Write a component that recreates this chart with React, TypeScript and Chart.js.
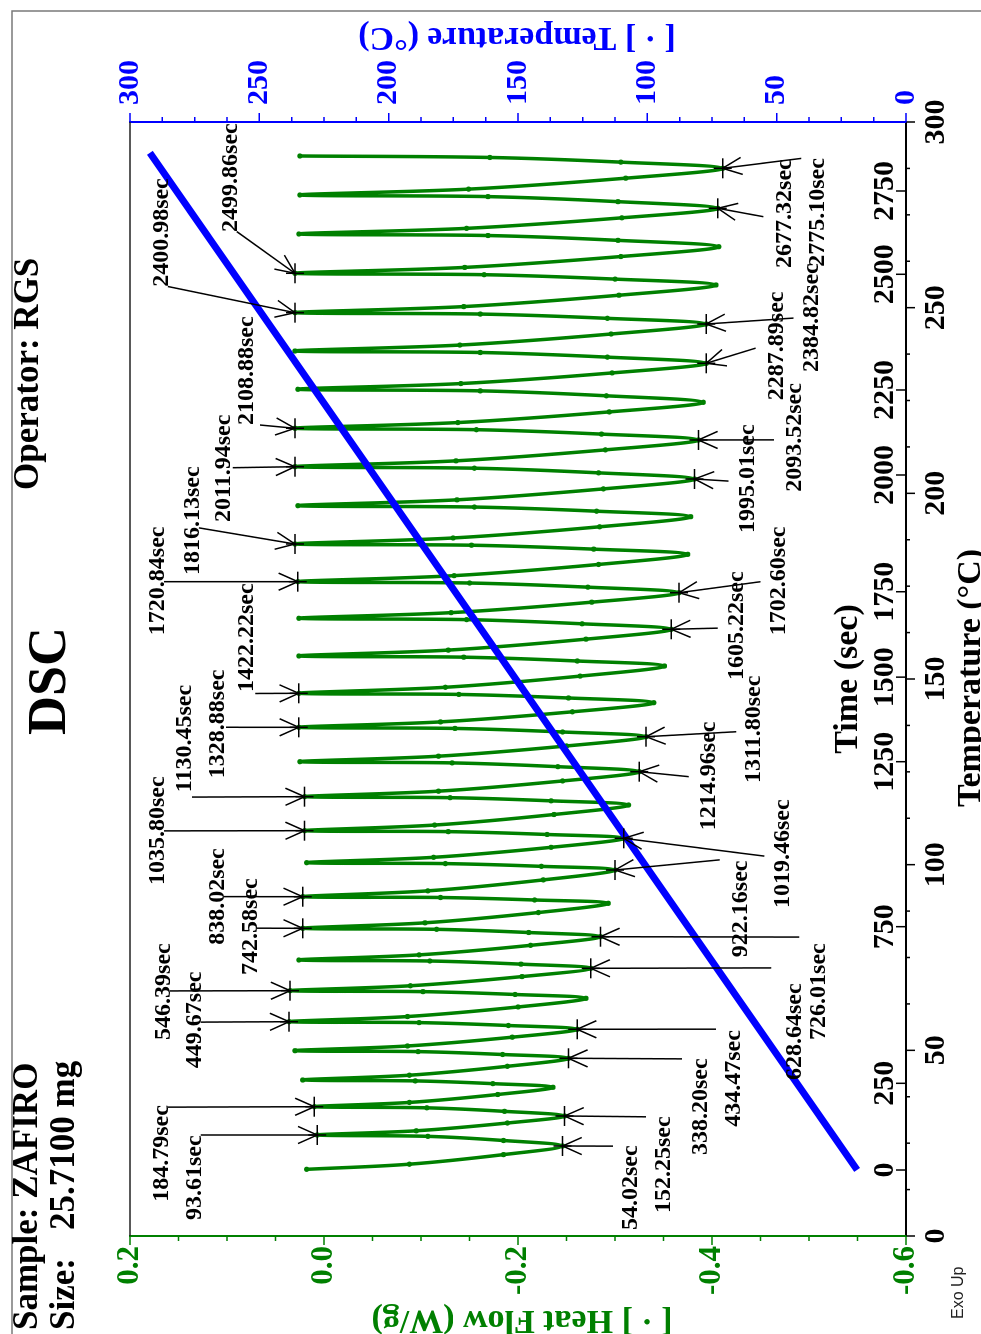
import React, { useEffect, useRef } from 'react';
import { Chart, registerables } from 'chart.js';

Chart.register(...registerables);

const GREEN = '#008000';
const BLUE = '#0000ff';
const SERIF = "'Liberation Serif', 'Times New Roman', serif";
const SANS = "'Liberation Sans', Arial, sans-serif";

// Heat flow (W/g) against sample temperature (°C)
const heatFlowTemp = [
  17.96, 19.34, 21.92,
  24.24, 25.72, 26.84,
  27.20, 28.33, 30.43,
  32.32, 33.57, 34.52,
  34.82, 35.97, 38.11,
  40.05, 41.03, 41.77,
  42.01, 43.30, 45.70,
  47.86, 48.88, 49.66,
  49.90, 51.17, 53.54,
  55.67, 56.69, 57.47,
  57.71, 59.10, 61.68,
  64.01, 65.04, 65.81,
  66.06, 67.39, 69.86,
  72.09, 73.21, 74.06,
  74.33, 75.71, 78.28,
  80.60, 81.73, 82.59,
  82.86, 84.34, 87.11,
  89.60, 90.49, 91.16,
  91.37, 92.95, 95.90,
  98.56, 99.55, 100.29,
  100.53, 101.98, 104.67,
  107.10, 108.13, 108.90,
  109.15, 110.67, 113.51,
  116.07, 117.19, 118.04,
  118.31, 119.79, 122.55,
  125.04, 126.39, 127.41,
  127.73, 129.21, 131.97,
  134.46, 135.73, 136.69,
  136.99, 138.45, 141.17,
  143.62, 144.89, 145.85,
  146.15, 147.77, 150.78,
  153.50, 154.85, 155.88,
  156.20, 157.78, 160.73,
  163.39, 164.87, 165.99,
  166.35, 167.87, 170.69,
  173.24, 174.73, 175.85,
  176.21, 177.83, 180.85,
  183.58, 184.97, 186.03,
  186.36, 187.98, 190.99,
  193.71, 195.19, 196.31,
  196.67, 198.25, 201.20,
  203.86, 205.52, 206.77,
  207.17, 208.75, 211.71,
  214.37, 215.95, 217.14,
  217.52, 219.06, 221.93,
  224.52, 226.27, 227.60,
  228.02, 229.56, 232.43,
  235.02, 236.68, 237.93,
  238.33, 239.93, 242.91,
  245.60, 247.13, 248.28,
  248.65, 250.29, 253.35,
  256.11, 257.69, 258.88,
  259.26, 260.84, 263.77,
  266.42, 268.13, 269.43,
  269.84, 271.36, 274.20,
  276.76, 278.55, 279.91,
  280.34, 281.92, 284.87,
  287.53, 289.19, 290.45,
  290.85,
];

const heatFlowValue = [
  0.018, -0.088, -0.185,
  -0.246, -0.185, -0.107,
  0.007, -0.095, -0.189,
  -0.248, -0.186, -0.106,
  0.010, -0.088, -0.179,
  -0.236, -0.174, -0.094,
  0.022, -0.088, -0.189,
  -0.252, -0.184, -0.097,
  0.030, -0.086, -0.194,
  -0.261, -0.190, -0.098,
  0.036, -0.086, -0.200,
  -0.270, -0.197, -0.102,
  0.035, -0.089, -0.204,
  -0.275, -0.203, -0.109,
  0.026, -0.098, -0.213,
  -0.285, -0.211, -0.116,
  0.022, -0.104, -0.221,
  -0.293, -0.217, -0.120,
  0.022, -0.107, -0.226,
  -0.300, -0.224, -0.125,
  0.018, -0.113, -0.234,
  -0.309, -0.230, -0.128,
  0.020, -0.114, -0.237,
  -0.314, -0.234, -0.130,
  0.020, -0.118, -0.246,
  -0.325, -0.241, -0.132,
  0.025, -0.118, -0.250,
  -0.332, -0.246, -0.135,
  0.026, -0.120, -0.256,
  -0.340, -0.252, -0.139,
  0.026, -0.125, -0.264,
  -0.351, -0.261, -0.144,
  0.026, -0.128, -0.270,
  -0.358, -0.266, -0.147,
  0.026, -0.131, -0.276,
  -0.366, -0.272, -0.150,
  0.027, -0.134, -0.283,
  -0.375, -0.278, -0.152,
  0.030, -0.133, -0.284,
  -0.378, -0.281, -0.155,
  0.027, -0.137, -0.288,
  -0.382, -0.283, -0.155,
  0.030, -0.136, -0.290,
  -0.386, -0.286, -0.157,
  0.030, -0.138, -0.294,
  -0.391, -0.291, -0.161,
  0.027, -0.141, -0.297,
  -0.394, -0.292, -0.161,
  0.030, -0.140, -0.296,
  -0.394, -0.292, -0.161,
  0.030, -0.144, -0.304,
  -0.404, -0.300, -0.165,
  0.030, -0.145, -0.306,
  -0.407, -0.303, -0.169,
  0.026, -0.147, -0.307,
  -0.406, -0.303, -0.169,
  0.025, -0.149, -0.311,
  -0.411, -0.306, -0.171,
  0.025,
];

// Temperature trace (right axis) against sample temperature
const tempLineX = [17.8, 291.7];
const tempLineY = [18.9, 292.3];

// Secondary time axis (sec), positioned at the sample temperature it corresponds to
const timeTickSeconds = [0, 250, 750, 1250, 1500, 1750, 2000, 2250, 2500, 2750];
const timeTickTemps = [17.77, 41.12, 83.3, 127.73, 150.5, 173.5, 204.94, 227.83, 258.99, 281.42];

// Annotated peaks
const annLabels = [
  '93.61sec', '184.79sec', '449.67sec', '546.39sec', '742.58sec', '838.02sec', '1035.80sec', '1130.45sec',
  '1328.88sec', '1422.22sec', '1720.84sec', '1816.13sec', '2011.94sec', '2108.88sec', '2400.98sec', '2499.86sec',
  '54.02sec', '152.25sec', '338.20sec', '434.47sec', '628.64sec', '726.01sec', '922.16sec', '1019.46sec',
  '1214.96sec', '1311.80sec', '1605.22sec', '1702.60sec', '1995.01sec', '2093.52sec', '2287.89sec', '2384.82sec',
  '2677.32sec', '2775.10sec',
];
const annTipPoint = [
  6, 12, 30, 36, 48, 54, 66, 72, 84, 90, 108, 114, 126, 132, 150, 156,
  3, 9, 21, 27, 39, 45, 57, 63, 75, 81, 99, 105, 123, 129, 141, 147, 165, 171,
];
const annFromT = [
  27.2, 34.7, 57.6, 66.0, 82.9, 91.4, 109.1, 118.2, 137.0, 146.1, 176.2, 190.7, 206.9, 218.4, 255.7, 270.5,
  24.2, 32.1, 47.7, 55.7, 72.2, 80.5, 101.3, 102.3, 123.7, 135.8, 163.7, 176.2, 203.3, 214.4, 239.1, 247.2, 274.5, 290.2,
];
const annFromHF = [
  0.127, 0.161, 0.127, 0.159, 0.069, 0.103, 0.165, 0.136, 0.101, 0.071, 0.165, 0.129, 0.094, 0.066, 0.161, 0.090,
  -0.298, -0.332, -0.369, -0.404, -0.461, -0.490, -0.408, -0.454, -0.376, -0.425, -0.406, -0.450, -0.417, -0.464,
  -0.445, -0.484, -0.453, -0.492,
];
const annTextT = [
  4.3, 9.2, 45.2, 52.8, 70.3, 78.4, 94.5, 119.5, 123.3, 146.5, 161.8, 178.0, 192.3, 218.4, 255.6, 270.4,
  1.6, 6.2, 21.8, 29.4, 42.0, 52.8, 75.1, 88.3, 109.3, 122.0, 149.7, 161.8, 189.3, 200.4, 225.1, 232.7, 260.7, 261.0,
];
const annTextHF = [
  0.127, 0.161, 0.127, 0.159, 0.069, 0.103, 0.165, 0.137, 0.103, 0.073, 0.165, 0.129, 0.097, 0.073, 0.161, 0.090,
  -0.323, -0.357, -0.395, -0.429, -0.492, -0.517, -0.436, -0.479, -0.403, -0.449, -0.432, -0.475, -0.443, -0.492,
  -0.473, -0.509, -0.481, -0.515,
];

function isMult(v: number, step: number) {
  const r = v / step;
  return Math.abs(r - Math.round(r)) < 1e-6;
}

const overlayPlugin = {
  id: 'dscOverlay',
  afterDraw(chart: any) {
    const ctx: CanvasRenderingContext2D = chart.ctx;
    const xs = chart.scales.x;
    const ys = chart.scales.y;
    const y2 = chart.scales.y2;
    const a = chart.chartArea;
    ctx.save();

    // outer frame
    ctx.strokeStyle = '#7a7a7a';
    ctx.lineWidth = 1.5;
    ctx.beginPath();
    ctx.moveTo(0, 12);
    ctx.lineTo(1323, 12);
    ctx.lineTo(1323, 981);
    ctx.stroke();

    // top border of plot
    ctx.strokeStyle = '#222';
    ctx.lineWidth = 1.5;
    ctx.beginPath();
    ctx.moveTo(a.left, a.top);
    ctx.lineTo(a.right, a.top);
    ctx.stroke();

    // temperature (x) tick marks, outside
    ctx.strokeStyle = '#000';
    ctx.lineWidth = 1.5;
    ctx.beginPath();
    for (const t of xs.ticks) {
      const p = xs.getPixelForValue(t.value);
      const len = isMult(t.value, 50) ? 9 : 4;
      ctx.moveTo(p, a.bottom);
      ctx.lineTo(p, a.bottom + len);
    }
    ctx.stroke();

    // heat flow tick marks
    ctx.strokeStyle = GREEN;
    ctx.beginPath();
    for (const t of ys.ticks) {
      const p = ys.getPixelForValue(t.value);
      const len = isMult(t.value, 0.2) ? 9 : 5;
      ctx.moveTo(a.left, p);
      ctx.lineTo(a.left - len, p);
    }
    ctx.stroke();

    // temperature (right) tick marks
    ctx.strokeStyle = BLUE;
    ctx.beginPath();
    for (const t of y2.ticks) {
      const p = y2.getPixelForValue(t.value);
      const len = isMult(t.value, 50) ? 9 : 5;
      ctx.moveTo(a.right, p);
      ctx.lineTo(a.right + len, p);
    }
    ctx.stroke();

    // time axis (inside the plot)
    ctx.strokeStyle = '#000';
    ctx.beginPath();
    timeTickTemps.forEach((T) => {
      const p = xs.getPixelForValue(T);
      ctx.moveTo(p, a.bottom);
      ctx.lineTo(p, a.bottom - 10);
    });
    ctx.stroke();
    ctx.fillStyle = '#000';
    ctx.font = `bold 30px ${SERIF}`;
    ctx.textAlign = 'center';
    ctx.textBaseline = 'alphabetic';
    timeTickSeconds.forEach((s, i) => {
      ctx.fillText(String(s), xs.getPixelForValue(timeTickTemps[i]), a.bottom - 13);
    });

    // axis titles
    ctx.font = `bold 34px ${SERIF}`;
    ctx.fillText('Time (sec)', 655, 857);
    ctx.fillText('Temperature (\u00B0C)', 656, 980);

    ctx.save();
    ctx.translate(23, 522);
    ctx.rotate(-Math.PI / 2);
    ctx.fillStyle = GREEN;
    ctx.fillText('[ \u00B7 ] Heat Flow (W/g)', 0, 0);
    ctx.restore();

    ctx.save();
    ctx.translate(1306, 517);
    ctx.rotate(-Math.PI / 2);
    ctx.fillStyle = BLUE;
    ctx.fillText('[ \u00B7 ] Temperature (\u00B0C)', 0, 0);
    ctx.restore();

    // header
    ctx.fillStyle = '#000';
    ctx.textAlign = 'left';
    ctx.font = `bold 35px ${SERIF}`;
    ctx.fillText('Sample: ZAFIRO', 4, 37);
    ctx.fillText('Size:', 4, 74);
    ctx.fillText('25.7100 mg', 104, 74);
    ctx.fillText('Operator: RGS', 844, 38);
    ctx.textAlign = 'center';
    ctx.font = `bold 54px ${SERIF}`;
    ctx.fillText('DSC', 653, 65);

    ctx.textAlign = 'left';
    ctx.font = `16px ${SANS}`;
    ctx.fillStyle = '#222';
    ctx.fillText('Exo Up', 15, 963);

    // annotations
    ctx.strokeStyle = '#000';
    ctx.fillStyle = '#000';
    ctx.lineWidth = 1.5;
    ctx.font = `bold 24px ${SERIF}`;
    ctx.textAlign = 'left';
    ctx.textBaseline = 'alphabetic';
    annLabels.forEach((label, i) => {
      const k = annTipPoint[i];
      const tx = xs.getPixelForValue(heatFlowTemp[k]);
      const ty = ys.getPixelForValue(heatFlowValue[k]);
      const fx = xs.getPixelForValue(annFromT[i]);
      const fy = ys.getPixelForValue(annFromHF[i]);
      ctx.beginPath();
      ctx.moveTo(fx, fy);
      ctx.lineTo(tx, ty);
      ctx.stroke();
      const ang = Math.atan2(ty - fy, tx - fx);
      const L = 21;
      const W = 0.42;
      ctx.beginPath();
      ctx.moveTo(tx - L * Math.cos(ang - W), ty - L * Math.sin(ang - W));
      ctx.lineTo(tx, ty);
      ctx.lineTo(tx - L * Math.cos(ang + W), ty - L * Math.sin(ang + W));
      ctx.stroke();
      ctx.beginPath();
      ctx.moveTo(tx - 10, ty);
      ctx.lineTo(tx + 10, ty);
      ctx.moveTo(tx, ty - 9);
      ctx.lineTo(tx, ty + 9);
      ctx.stroke();
      ctx.fillText(label, xs.getPixelForValue(annTextT[i]), ys.getPixelForValue(annTextHF[i]));
    });

    ctx.restore();
  },
};

export default function App() {
  const ref = useRef<HTMLCanvasElement>(null);

  useEffect(() => {
    document.body.style.margin = '0';
    document.body.style.overflow = 'hidden';
    const canvas = ref.current;
    if (!canvas) return;

    const hfPoints = heatFlowTemp.map((t, i) => ({ x: t, y: heatFlowValue[i] }));
    const tPoints = tempLineX.map((t, i) => ({ x: t, y: tempLineY[i] }));

    const chart = new Chart(canvas, {
      type: 'line',
      data: {
        datasets: [
          {
            label: 'Temperature',
            data: tPoints,
            yAxisID: 'y2',
            xAxisID: 'x',
            borderColor: BLUE,
            borderWidth: 7,
            pointRadius: 0,
            tension: 0,
          },
          {
            label: 'Heat Flow',
            data: hfPoints,
            yAxisID: 'y',
            xAxisID: 'x',
            borderColor: GREEN,
            borderWidth: 3.5,
            pointRadius: 2.6,
            pointBorderWidth: 0,
            pointBackgroundColor: GREEN,
            tension: 0.35,
          },
        ],
      },
      options: {
        responsive: false,
        animation: false,
        events: [],
        layout: { padding: { top: 130, left: 0, right: 0, bottom: 0 } },
        plugins: {
          legend: { display: false },
          tooltip: { enabled: false },
          title: { display: false },
        },
        scales: {
          x: {
            type: 'linear',
            position: 'bottom',
            min: 0,
            max: 300,
            grid: { display: false, drawTicks: false },
            border: { display: true, color: '#000', width: 2 },
            ticks: {
              stepSize: 12.5,
              autoSkip: false,
              maxRotation: 0,
              padding: 12,
              color: '#000',
              font: { family: SERIF, size: 30, weight: 'bold' },
              callback: (v: any) => (isMult(Number(v), 50) ? String(Math.round(Number(v))) : ''),
            },
            afterFit: (s: any) => {
              s.height = 75;
            },
          },
          y: {
            type: 'linear',
            position: 'left',
            min: -0.6,
            max: 0.2,
            grid: { display: false, drawTicks: false },
            border: { display: true, color: GREEN, width: 2 },
            ticks: {
              stepSize: 0.05,
              autoSkip: false,
              padding: 10,
              color: GREEN,
              font: { family: SERIF, size: 31, weight: 'bold' },
              callback: (v: any) => {
                const n = Number(v);
                if (!isMult(n, 0.2)) return '';
                const r = Math.round(n * 10) / 10;
                return (Math.abs(r) < 1e-9 ? 0 : r).toFixed(1);
              },
            },
            afterFit: (s: any) => {
              s.width = 98;
            },
          },
          y2: {
            type: 'linear',
            position: 'right',
            min: 0,
            max: 300,
            grid: { display: false, drawTicks: false },
            border: { display: true, color: BLUE, width: 2 },
            ticks: {
              stepSize: 12.5,
              autoSkip: false,
              padding: 17,
              color: BLUE,
              font: { family: SERIF, size: 30, weight: 'bold' },
              callback: (v: any) => (isMult(Number(v), 50) ? String(Math.round(Number(v))) : ''),
            },
            afterFit: (s: any) => {
              s.width = 122;
            },
          },
        },
      } as any,
      plugins: [overlayPlugin],
    });

    return () => chart.destroy();
  }, []);

  return (
    <div
      style={{
        position: 'absolute',
        left: 0,
        top: 0,
        width: 1334,
        height: 981,
        transformOrigin: '0 0',
        transform: 'translate(0px, 1334px) rotate(-90deg)',
        background: '#fff',
      }}
    >
      <canvas ref={ref} width={1334} height={981} style={{ display: 'block', width: 1334, height: 981 }} />
    </div>
  );
}
